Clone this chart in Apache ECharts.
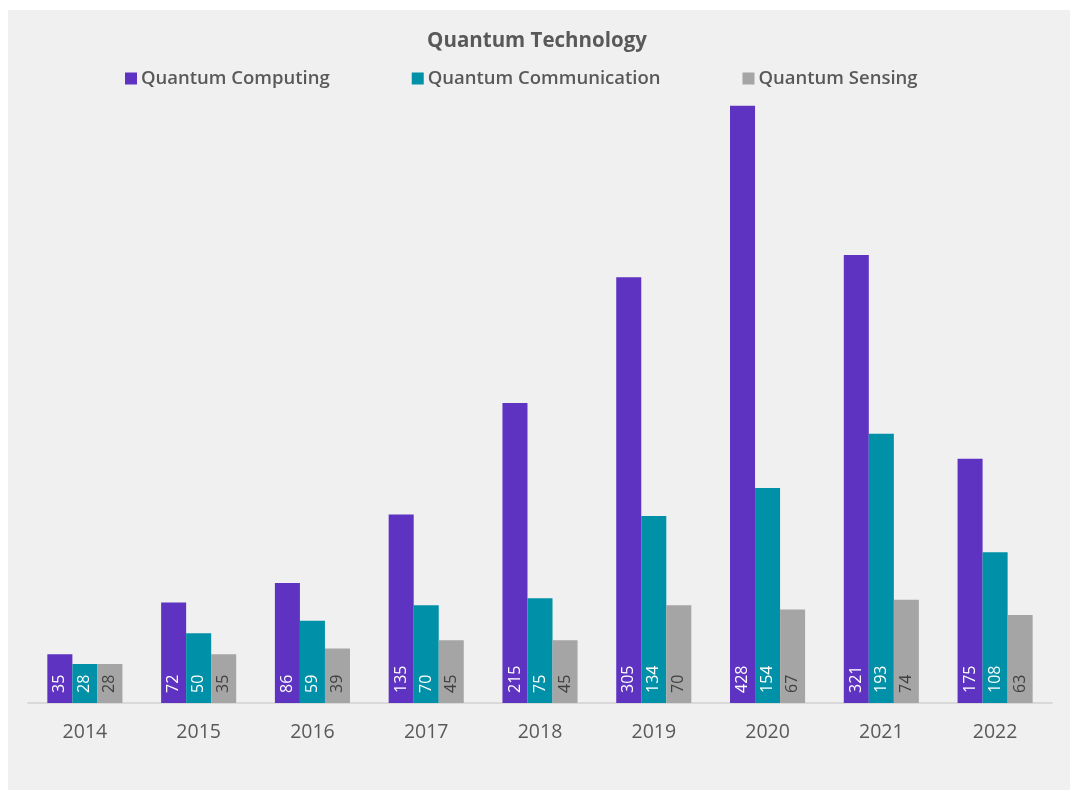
<!DOCTYPE html>
<html>
<head>
<meta charset="utf-8">
<script src="https://cdn.jsdelivr.net/npm/echarts@6/dist/echarts.min.js"></script>
<style>
  html, body { margin: 0; padding: 0; background: #ffffff; }
  #chart { width: 1074px; height: 790px; }
</style>
</head>
<body>
<div id="chart"></div>
<script>
// Annual counts per quantum technology field
const years = ['2014', '2015', '2016', '2017', '2018', '2019', '2020', '2021', '2022'];
const computing = [35, 72, 86, 135, 215, 305, 428, 321, 175];
const communication = [28, 50, 59, 70, 75, 134, 154, 193, 108];
const sensing = [28, 35, 39, 45, 45, 70, 67, 74, 63];

const FONT = '"Open Sans", "Noto Sans", sans-serif';
const TEXT = '#595959';

function barSeries(name, data, color, labelColor) {
  return {
    name: name,
    type: 'bar',
    data: data,
    barGap: '0%',
    barCategoryGap: '34%',
    itemStyle: { color: color },
    label: {
      show: true,
      position: 'insideBottom',
      rotate: 90,
      align: 'left',
      verticalAlign: 'middle',
      distance: 10,
      color: labelColor,
      fontFamily: FONT,
      fontSize: 16
    }
  };
}

const chart = echarts.init(document.getElementById('chart'), null, { renderer: 'canvas' });
chart.setOption({
  animation: false,
  backgroundColor: '#ffffff',
  graphic: [{
    type: 'rect',
    left: 8, top: 10, z: -10,
    shape: { width: 1062, height: 780 },
    style: { fill: '#f0f0f0' }
  }],
  title: {
    text: 'Quantum Technology',
    left: 'center',
    top: 26,
    textStyle: { fontFamily: FONT, fontSize: 20.5, fontWeight: 'bold', color: TEXT }
  },
  legend: {
    top: 64,
    left: 120,
    itemGap: 82,
    itemWidth: 12,
    itemHeight: 12,
    icon: 'rect',
    textStyle: { fontFamily: FONT, fontSize: 18.5, fontWeight: 600, color: TEXT, padding: [0, 0, 0, -1] }
  },
  grid: { left: 28, right: 22, top: 75, bottom: 87 },
  xAxis: {
    type: 'category',
    data: years,
    axisTick: { show: false },
    axisLine: { lineStyle: { color: '#d9d9d9', width: 2 } },
    axisLabel: { fontFamily: FONT, fontSize: 19.5, color: TEXT, margin: 19 }
  },
  yAxis: {
    type: 'value',
    min: 0,
    max: 450,
    show: false,
    splitLine: { show: false }
  },
  series: [
    barSeries('Quantum Computing', computing, '#5f33c1', '#ffffff'),
    barSeries('Quantum Communication', communication, '#0091a8', '#ffffff'),
    barSeries('Quantum Sensing', sensing, '#a5a5a5', '#404040')
  ]
});
</script>
</body>
</html>
